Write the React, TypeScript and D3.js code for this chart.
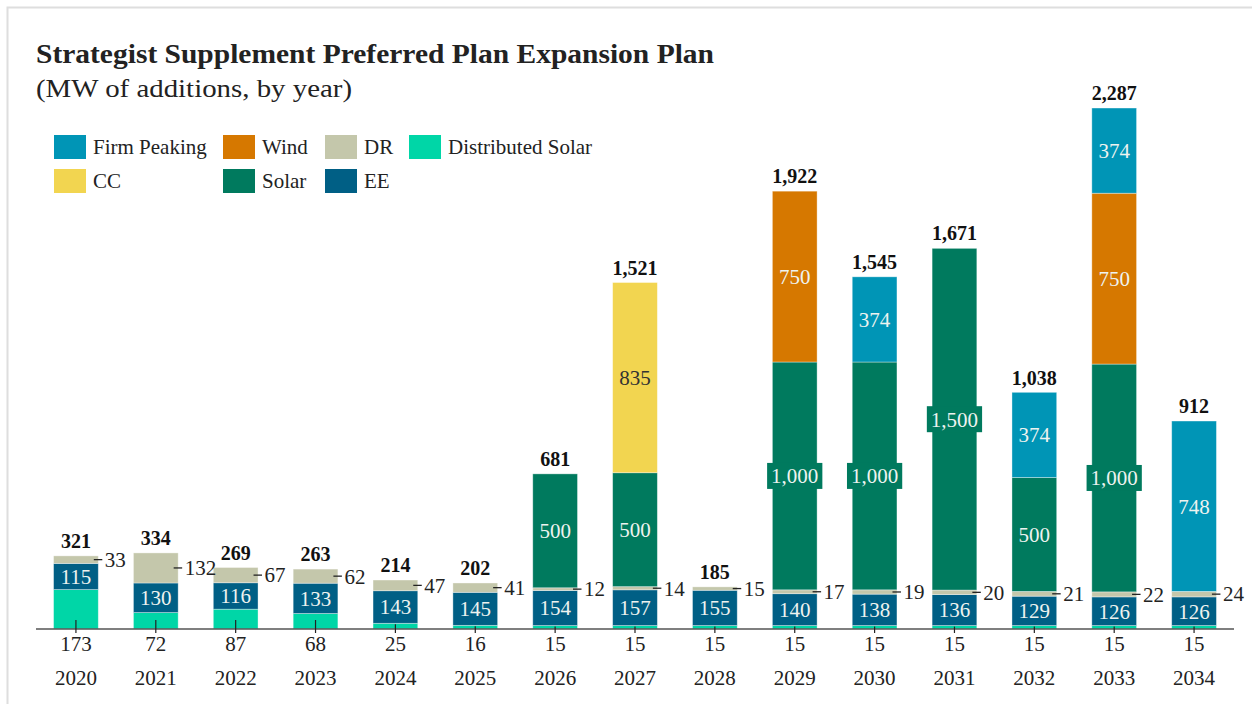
import React from 'react';
import * as d3 from 'd3';

const years = ['2020', '2021', '2022', '2023', '2024', '2025', '2026', '2027', '2028', '2029', '2030', '2031', '2032', '2033', '2034'];
const distributedSolar = [173, 72, 87, 68, 25, 16, 15, 15, 15, 15, 15, 15, 15, 15, 15];
const ee = [115, 130, 116, 133, 143, 145, 154, 157, 155, 140, 138, 136, 129, 126, 126];
const dr = [33, 132, 67, 62, 47, 41, 12, 14, 15, 17, 19, 20, 21, 22, 24];
const solar = [0, 0, 0, 0, 0, 0, 500, 500, 0, 1000, 1000, 1500, 500, 1000, 0];
const cc = [0, 0, 0, 0, 0, 0, 0, 835, 0, 0, 0, 0, 0, 0, 0];
const wind = [0, 0, 0, 0, 0, 0, 0, 0, 0, 750, 0, 0, 0, 750, 0];
const firmPeaking = [0, 0, 0, 0, 0, 0, 0, 0, 0, 0, 374, 0, 374, 374, 748];
const totals = [321, 334, 269, 263, 214, 202, 681, 1521, 185, 1922, 1545, 1671, 1038, 2287, 912];

const seriesKeys = ['Distributed Solar', 'EE', 'DR', 'Solar', 'CC', 'Wind', 'Firm Peaking'];
const seriesValues: Record<string, number[]> = {
  'Distributed Solar': distributedSolar,
  EE: ee,
  DR: dr,
  Solar: solar,
  CC: cc,
  Wind: wind,
  'Firm Peaking': firmPeaking,
};
const seriesColors: Record<string, string> = {
  'Firm Peaking': '#0095b6',
  Wind: '#d67800',
  DR: '#c4c7ab',
  'Distributed Solar': '#00d6a7',
  CC: '#f2d550',
  Solar: '#007a5e',
  EE: '#005f85',
};
const legendRows = [
  ['Firm Peaking', 'Wind', 'DR', 'Distributed Solar'],
  ['CC', 'Solar', 'EE'],
];

const title = 'Strategist Supplement Preferred Plan Expansion Plan';
const subtitle = '(MW of additions, by year)';

const W = 1252;
const H = 704;
const FONT = "'Liberation Serif', 'DejaVu Serif', serif";
const BASE = 629;
const legendColX = [54, 223, 325, 409];
const legendRowY = [147, 181];

const fmt = d3.format(',');

function textWidth(s: string, size: number) {
  let w = 0;
  for (const ch of s) w += ch === ',' ? 0.25 : 0.5;
  return w * size;
}

export default function App() {
  const rows = years.map((yr, i) => {
    const r: any = { year: yr };
    seriesKeys.forEach((k) => (r[k] = seriesValues[k][i]));
    return r;
  });
  const stacked = d3.stack<any>().keys(seriesKeys)(rows);

  const x = d3.scaleBand<string>().domain(years).range([36, 1234]).paddingInner(0.44).paddingOuter(0.22);
  const y = d3.scaleLinear().domain([0, 2500]).range([BASE, BASE - 2500 * 0.2278]);
  const bw = x.bandwidth();

  const segs: any[] = [];
  stacked.forEach((layer) => {
    const key = layer.key;
    layer.forEach((d, i) => {
      const v = d[1] - d[0];
      if (v <= 0) return;
      segs.push({ key, i, y0: y(d[0]), y1: y(d[1]), v, year: years[i] });
    });
  });

  return (
    <svg width={W} height={H} style={{ position: 'absolute', left: 0, top: 0, display: 'block', fontFamily: FONT }}>
      <rect x={0} y={0} width={W} height={H} fill="#fff" />
      <rect x={7.5} y={7.5} width={W + 20} height={H + 20} fill="none" stroke="#dedede" strokeWidth={2} />
      <text x={36} y={63} fontSize={28} fontWeight="bold" fill="#222" textLength={678} lengthAdjust="spacingAndGlyphs" style={{ fontFamily: FONT }}>{title}</text>
      <text x={36} y={97} fontSize={26} fill="#222" textLength={316} lengthAdjust="spacingAndGlyphs" style={{ fontFamily: FONT }}>{subtitle}</text>

      {legendRows.map((row, ri) =>
        row.map((k, ci) => (
          <g key={k}>
            <rect x={legendColX[ci]} y={legendRowY[ri] - 12} width={32} height={24} fill={seriesColors[k]} />
            <text x={legendColX[ci] + 39} y={legendRowY[ri]} dy="0.35em" fontSize={21} fill="#222" style={{ fontFamily: FONT }}>{k}</text>
          </g>
        ))
      )}

      {segs.map((s) => (
        <rect
          key={s.key + s.year}
          x={x(s.year)}
          y={s.y1}
          width={bw}
          height={s.y0 - s.y1}
          fill={seriesColors[s.key]}
          stroke="#ffffff"
          strokeOpacity={0.45}
          strokeWidth={0.8}
        />
      ))}

      <line x1={36} x2={1234} y1={BASE} y2={BASE} stroke="#555" strokeWidth={1.5} />

      {segs.map((s) => {
        const cx = (x(s.year) as number) + bw / 2;
        const cy = (s.y0 + s.y1) / 2;
        const label = fmt(s.v);
        if (s.key === 'Distributed Solar') {
          return (
            <g key={'l' + s.key + s.year}>
              <line x1={cx} x2={cx} y1={Math.max(s.y1 + 1, BASE - 9)} y2={BASE + 4} stroke="#222" strokeWidth={1.2} />
              <text x={cx} y={644} dy="0.35em" textAnchor="middle" fontSize={21} fill="#222" style={{ fontFamily: FONT }}>{label}</text>
            </g>
          );
        }
        if (s.key === 'DR') {
          const rx = (x(s.year) as number) + bw;
          return (
            <g key={'l' + s.key + s.year}>
              <line x1={rx - 4.5} x2={rx + 4} y1={cy} y2={cy} stroke="#222" strokeWidth={1.3} />
              <text x={rx + 6.5} y={cy} dy="0.35em" fontSize={21} fill="#222" style={{ fontFamily: FONT }}>{label}</text>
            </g>
          );
        }
        const tw = textWidth(label, 21);
        return (
          <g key={'l' + s.key + s.year}>
            {tw > bw - 2 && (
              <rect x={cx - tw / 2 - 4} y={cy - 13} width={tw + 8} height={26} fill={seriesColors[s.key]} />
            )}
            <text x={cx} y={cy} dy="0.35em" textAnchor="middle" fontSize={21} fill={s.key === 'CC' ? '#333' : '#eef3f0'} style={{ fontFamily: FONT }}>{label}</text>
          </g>
        );
      })}

      {years.map((yr, i) => {
        const cx = (x(yr) as number) + bw / 2;
        return (
          <g key={'t' + yr}>
            <text x={cx} y={y(totals[i]) - 8} textAnchor="middle" fontSize={20} fontWeight="bold" fill="#111" style={{ fontFamily: FONT }}>{fmt(totals[i])}</text>
            <text x={cx} y={685} textAnchor="middle" fontSize={21} fill="#222" style={{ fontFamily: FONT }}>{yr}</text>
          </g>
        );
      })}
    </svg>
  );
}
